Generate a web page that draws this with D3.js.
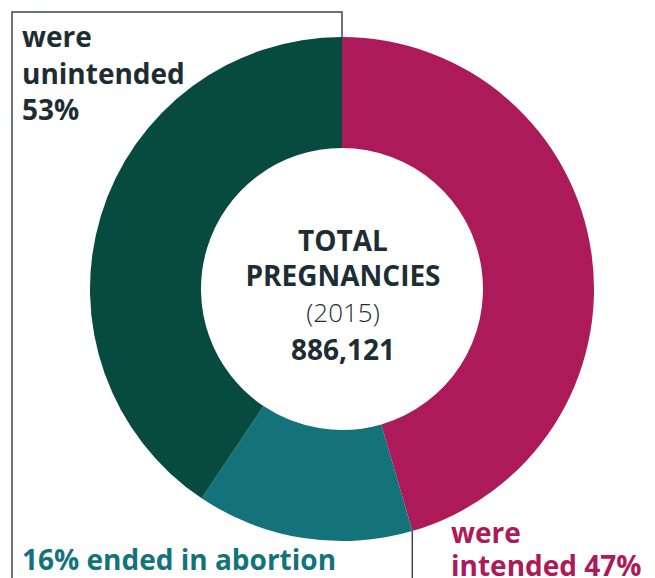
<!DOCTYPE html>
<html>
<head>
<meta charset="utf-8">
<script src="https://cdn.jsdelivr.net/npm/d3@7"></script>
<style>
  body { margin: 0; background: #fff; }
  svg { display: block; }
  text { font-family: "Open Sans", "Lato", sans-serif; }
</style>
</head>
<body>
<div id="chart"></div>
<script>
// slice shares as drawn in the picture (clockwise from 12 o'clock)
var categories = ["intended", "abortion", "unintended_other"];
var shares = [45.5, 13.9, 40.6];
var colors = ["#ad1a5a", "#14737a", "#074a40"];

var centerLines = ["TOTAL", "PREGNANCIES", "(2015)", "886,121"];
var unintendedLabel = ["were", "unintended", "53%"];
var abortionLabel = "16% ended in abortion";
var intendedLabel = ["were", "intended 47%"];

var width = 655, height = 578;
var cx = 342, cy = 289;
var outerR = 252, innerR = 141;
var ink = "#1e2d33";

var svg = d3.select("#chart")
    .append("svg")
    .attr("width", width)
    .attr("height", height);

var data = categories.map(function(c, i) { return {cat: c, value: shares[i], color: colors[i]}; });

var pie = d3.pie()
    .sort(null)
    .value(function(d) { return d.value; });

var arc = d3.arc()
    .innerRadius(innerR)
    .outerRadius(outerR);

var arcs = pie(data);

var g = svg.append("g")
    .attr("transform", "translate(" + cx + "," + cy + ")");

g.selectAll("path")
    .data(arcs)
    .enter()
    .append("path")
    .attr("d", arc)
    .attr("fill", function(d) { return d.data.color; });

// bracket lines
var topY = cy - outerR;
svg.append("path")
    .attr("d", "M12," + height + "L12,12L" + cx + ",12L" + cx + "," + topY)
    .attr("fill", "none")
    .attr("stroke", "#3b4a4c")
    .attr("stroke-width", 1.5);

var a = arcs[0].endAngle;
var px = cx + outerR * Math.sin(a), py = cy - outerR * Math.cos(a);
svg.append("line")
    .attr("x1", px).attr("y1", py)
    .attr("x2", px).attr("y2", height)
    .attr("stroke", "#3b4a4c")
    .attr("stroke-width", 1.5);

// center text
var centerY = [251, 286, 322, 360];
var centerW = [700, 700, 300, 700];
var centerS = [28, 28, 26, 28];
svg.selectAll(".center")
    .data(centerLines)
    .enter()
    .append("text")
    .attr("class", "center")
    .attr("x", cx + 1)
    .attr("y", function(d, i) { return centerY[i]; })
    .attr("text-anchor", "middle")
    .attr("font-size", function(d, i) { return centerS[i]; })
    .attr("font-weight", function(d, i) { return centerW[i]; })
    .attr("fill", ink)
    .text(function(d) { return d; });

// unintended label
svg.selectAll(".unint")
    .data(unintendedLabel)
    .enter()
    .append("text")
    .attr("class", "unint")
    .attr("x", 22)
    .attr("y", function(d, i) { return 47 + i * 36.5; })
    .attr("font-size", 28)
    .attr("font-weight", 700)
    .attr("fill", ink)
    .text(function(d) { return d; });

svg.append("text")
    .attr("x", 22)
    .attr("y", 570)
    .attr("font-size", 28)
    .attr("font-weight", 700)
    .attr("fill", colors[1])
    .text(abortionLabel);

svg.selectAll(".int")
    .data(intendedLabel)
    .enter()
    .append("text")
    .attr("class", "int")
    .attr("x", 451)
    .attr("y", function(d, i) { return 543 + i * 33; })
    .attr("font-size", 28)
    .attr("font-weight", 700)
    .attr("fill", colors[0])
    .text(function(d) { return d; });
</script>
</body>
</html>
